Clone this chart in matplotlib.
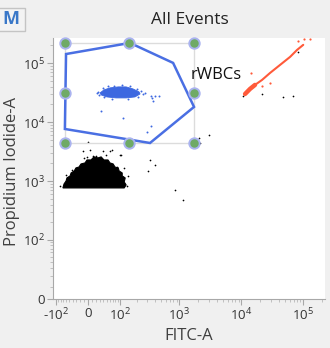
import numpy as np
import matplotlib.pyplot as plt
from matplotlib.patches import Rectangle
from matplotlib.ticker import FixedLocator, FixedFormatter

plt.rcParams['font.family'] = ['Open Sans', 'DejaVu Sans']
plt.rcParams['mathtext.fontset'] = 'custom'
plt.rcParams['mathtext.rm'] = 'Open Sans'
plt.rcParams['mathtext.it'] = 'Open Sans:italic'
plt.rcParams['mathtext.bf'] = 'Open Sans:bold'

# ---- data (FITC-A on x, Propidium Iodide-A on y) ----
gate_x = [-61, 152, 790, 1722, 332, -65]
gate_y = [142600, 220000, 100800, 18080, 4420, 7640]
gate_name = 'rWBCs'
gate_label_xy = (1540, 63100)

# main black population (outline of the dense blob)
blob_x = [-72, -68, -61, -58, -48, -45, -36, -31, -23, -17.6, -7.5, -2.5, 7.5, 15, 25.5,
          34, 42, 54.5, 61, 72, 79, 92, 96, 110, 110, 125, 120, 130, 120]
blob_y = [764, 892, 1000, 1130, 1222, 1372, 1480, 1670, 1730, 1950, 2030, 2280, 2280, 2570, 2470,
          2570, 2280, 2280, 2030, 1950, 1730, 1670, 1480, 1372, 1222, 1130, 966, 860, 764]

# scattered black events
black_x = [-12.5, 5, 39, 61, 100, -2.5, 12.5, 21, 87, 115, 307, 0, 2075, 3010, 2155,
           147, 105, 68, 1144, 850, 401, 332, 10660, 21600, 68400, 82400, 47200,
           -61, -42, -10, 48, 120, 141, -83, 135]
black_y = [3240, 3370, 3240, 3240, 2770, 2570, 2670, 2670, 1730, 1170, 1480, 4600, 5390, 6070, 4420,
           4100, 2770, 3370, 478, 706, 1880, 2280, 27800, 30000, 27800, 155000, 26700,
           1270, 1540, 2470, 2770, 1670, 1222, 826, 826]

# blue population inside the gate
blue_x = [31, 42, 61, 92, 130, 172, 218, 227, 186, 130, 83, 51, 34]
blue_y = [31200, 35100, 38000, 39500, 39500, 36500, 32500, 30000, 26700, 25700, 25700, 26700, 28900]
blue_dot_x = [345, 401, 467, 372, 358, 34, 115, 296, 345, 22.8, 275,
              25.5, 28, 39, 54.5, 75, 110, 152, 202, 236, 255, 210, 141, 68, 42]
blue_dot_y = [27800, 27800, 27800, 22800, 25700, 15500, 11800, 6800, 8600, 31200, 31200,
              32500, 28900, 38000, 41000, 41000, 42700, 41000, 36500, 33800, 30000, 26700, 24700, 24700, 26700]

# red diagonal streak
red_x = [11500, 13800, 16600, 21600, 29100, 42200, 61200, 79400, 99800]
red_y = [30000, 36500, 42700, 51900, 68200, 93300, 127500, 167600, 204000]
red_dot_x = [82400, 103000, 128700, 14300, 29100, 21600]
red_dot_y = [237000, 256000, 256000, 68200, 46200, 41000]

x_ticks = [-100, 0, 100, 1000, 10000, 100000]
x_labels = ['-$10^{2}$', '0', '$10^{2}$', '$10^{3}$', '$10^{4}$', '$10^{5}$']
y_ticks = [0, 100, 1000, 10000, 100000]
y_labels = ['0', '$10^{2}$', '$10^{3}$', '$10^{4}$', '$10^{5}$']


def fwd_x(v):
    return np.arcsinh(np.asarray(v, dtype=float) / 67)


def inv_x(v):
    return 67 * np.sinh(v)


def fwd_y(v):
    return np.arcsinh(np.asarray(v, dtype=float) / 20)


def inv_y(v):
    return 20 * np.sinh(v)


fig = plt.figure(figsize=(3.3, 3.48), dpi=100)
fig.patch.set_facecolor('#f0f0f0')
ax = fig.add_axes([53 / 330, 1 - 299 / 348, 272 / 330, 261 / 348])
ax.set_facecolor('white')
ax.set_xscale('function', functions=(fwd_x, inv_x))
ax.set_yscale('function', functions=(fwd_y, inv_y))
ax.set_xlim(-114, 224000)
ax.set_ylim(0, 266600)

# events
ax.fill(blob_x, blob_y, color='black', lw=0.8, zorder=2)
ax.scatter(black_x, black_y, s=1.5, color='black', lw=0, zorder=2)
ax.fill(blue_x, blue_y, color='#3d68e0', lw=0.6, zorder=2)
ax.scatter(blue_dot_x, blue_dot_y, s=2, color='#3d68e0', lw=0, zorder=2)
ax.plot(red_x, red_y, color='#ff5a3a', lw=1.5, solid_capstyle='round', zorder=2)
ax.plot(red_x[:3], red_y[:3], color='#ff5a3a', lw=3.2, solid_capstyle='round', zorder=2)
ax.scatter(red_dot_x, red_dot_y, s=2.5, color='#ff5a3a', lw=0, zorder=2)

# gate polygon with its bounding-box handles
tx = fwd_x(gate_x)
ty = fwd_y(gate_y)
hx = inv_x(np.array([tx.min(), (tx.min() + tx.max()) / 2, tx.max()]))
hy = inv_y(np.array([ty.min(), (ty.min() + ty.max()) / 2, ty.max()]))
ax.plot([hx[0], hx[2], hx[2], hx[0], hx[0]], [hy[0], hy[0], hy[2], hy[2], hy[0]],
        color='#dcdcdc', lw=1, zorder=3)
ax.fill(gate_x, gate_y, fill=False, edgecolor='#4a6fe3', lw=1.8, zorder=4)
handle_x = [hx[0], hx[1], hx[2], hx[0], hx[2], hx[0], hx[1], hx[2]]
handle_y = [hy[2], hy[2], hy[2], hy[1], hy[1], hy[0], hy[0], hy[0]]
ax.plot(handle_x, handle_y, 'o', ms=7.5, mfc='#6faa66', mec='#aab3f0', mew=1.4,
        ls='none', zorder=5, clip_on=False)
ax.text(gate_label_xy[0], gate_label_xy[1], gate_name, fontsize=12, color='#111111',
        ha='left', va='center', zorder=6)

# axes styling
for side in ['top', 'right']:
    ax.spines[side].set_visible(False)
for side in ['left', 'bottom']:
    ax.spines[side].set_color('#a8a8a8')

x_minor = [-90, -80, -70, -60, -50, -40, -30, -20, -10, 10, 20, 30, 40, 50, 60, 70, 80, 90]
x_minor += [m * 10 ** d for d in (2, 3, 4, 5) for m in range(2, 10)]
y_minor = [10, 20, 30, 40, 50, 60, 70, 80, 90]
y_minor += [m * 10 ** d for d in (2, 3, 4, 5) for m in range(2, 10)]

ax.xaxis.set_major_locator(FixedLocator(x_ticks))
ax.xaxis.set_major_formatter(FixedFormatter(x_labels))
ax.xaxis.set_minor_locator(FixedLocator([v for v in x_minor if v < 224000]))
ax.yaxis.set_major_locator(FixedLocator(y_ticks))
ax.yaxis.set_major_formatter(FixedFormatter(y_labels))
ax.yaxis.set_minor_locator(FixedLocator([v for v in y_minor if v < 266600]))
ax.tick_params(which='major', length=4, width=0.8, color='#a8a8a8', labelsize=9.5,
               labelcolor='#333333', pad=1.5)
ax.tick_params(which='minor', length=2, width=0.6, color='#b8b8b8')

ax.set_xlabel('FITC-A', fontsize=12, color='#404040')
ax.set_ylabel('Propidium Iodide-A', fontsize=12, color='#404040')
ax.xaxis.set_label_coords(0.5, -0.11)
ax.yaxis.set_label_coords(-0.12, 0.49)

# header
fig.text(190 / 330, 1 - 20 / 348, 'All Events', fontsize=12.5, color='#222222',
         ha='center', va='center')
fig.patches.append(Rectangle((-0.02, 1 - 31 / 348), 25 / 330 + 0.02, 23 / 348,
                             transform=fig.transFigure, facecolor='#f3f3f3',
                             edgecolor='#c4c4c4', lw=1))
fig.text(11 / 330, 1 - 19.5 / 348, 'M', fontsize=13, fontweight='bold', color='#3a78c8',
         ha='center', va='center')

fig.savefig('out.png', dpi=100, facecolor=fig.get_facecolor())
